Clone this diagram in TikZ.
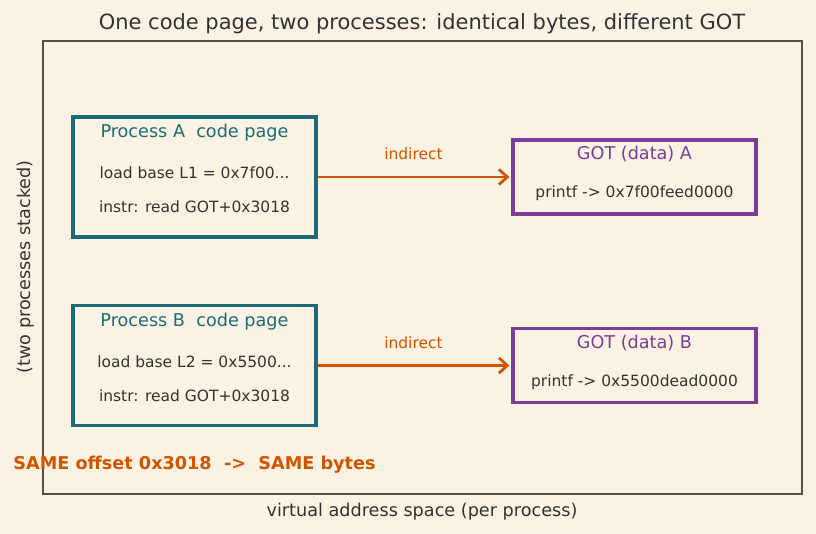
\documentclass[tikz,border=0pt]{standalone}
\usepackage{fontspec}
\setmainfont{DejaVu Sans}
\usetikzlibrary{arrows.meta}
\definecolor{bg}{HTML}{FAF2E3}
\definecolor{teal}{HTML}{1D6B78}
\definecolor{purp}{HTML}{7D3C98}
\definecolor{orng}{HTML}{D35400}
\definecolor{ink}{HTML}{333333}
\definecolor{frame}{HTML}{5A5040}
\begin{document}
\begin{tikzpicture}[x=0.72pt,y=-0.72pt,
  txt/.style={inner sep=0pt,text height=0.75em,text depth=0.22em},
  codebox/.style={draw=teal,line width=2.3pt,minimum width=243*0.72pt,minimum height=120*0.72pt,inner sep=0pt},
  gotbox/.style={draw=purp,line width=2.3pt,minimum width=243*0.72pt,minimum height=74*0.72pt,inner sep=0pt},
  hdrA/.style={txt,text=teal,font=\fontsize{12.7}{15}\selectfont},
  hdrG/.style={txt,text=purp,font=\fontsize{12.7}{15}\selectfont},
  body/.style={txt,text=ink,font=\fontsize{11.15}{13}\selectfont},
  conn/.style={draw=orng,line width=2pt,-{Straight Barb[length=6pt,width=11pt,line width=2pt]}},
  lbl/.style={txt,text=orng,font=\fontsize{11.15}{13}\selectfont}]
\fill[bg] (0,0) rectangle (816,534);
\useasboundingbox (0,0) rectangle (816,534);
\node[txt,text=ink,font=\fontsize{15.1}{18}\selectfont] (title) at (422,25.5) {One code page, two processes: identical bytes, different GOT};
\node[draw=frame,line width=1.1pt,minimum width=759*0.72pt,minimum height=453*0.72pt,inner sep=0pt] (frm) at (422.5,267.5) {};
\node[txt,text=ink,font=\fontsize{12.7}{15}\selectfont] (xl) at (422,513) {virtual address space (per process)};
\node[txt,text=ink,font=\fontsize{12.7}{15}\selectfont,rotate=90] (yl) at (26.5,267) {(two processes stacked)};

\node[codebox] (pa) at (194.5,177) {};
\node[hdrA] (pah) at (194.5,133.5) {Process A\ \ code page};
\node[body] (pa1) at (194.5,174.5) {load base L1 = 0x7f00...};
\node[body] (pa2) at (194.5,208.5) {instr: read GOT+0x3018};

\node[codebox] (pb) at (194.5,365.5) {};
\node[hdrA] (pbh) at (194.5,322.5) {Process B\ \ code page};
\node[body] (pb1) at (194.5,363.5) {load base L2 = 0x5500...};
\node[body] (pb2) at (194.5,397.5) {instr: read GOT+0x3018};

\node[gotbox] (ga) at (634.5,177) {};
\node[hdrG] (gah) at (634.5,155.5) {GOT (data) A};
\node[body] (ga1) at (634.5,193.5) {printf -> 0x7f00feed0000};

\node[gotbox] (gb) at (634.5,365.5) {};
\node[hdrG] (gbh) at (634.5,344.5) {GOT (data) B};
\node[body] (gb1) at (634.5,382.5) {printf -> 0x5500dead0000};

\draw[conn] (pa.east) -- ([xshift=-1.5pt]ga.west) node[lbl,midway,yshift=21*0.72pt] (la) {indirect};
\draw[conn] (pb.east) -- ([xshift=-1.5pt]gb.west) node[lbl,midway,yshift=21*0.72pt] (lb) {indirect};

\node[txt,text=orng,font=\bfseries\fontsize{12.7}{15}\selectfont] (same) at (194.5,465.5) {SAME offset 0x3018\ \ ->\ \ SAME bytes};
\end{tikzpicture}
\end{document}
